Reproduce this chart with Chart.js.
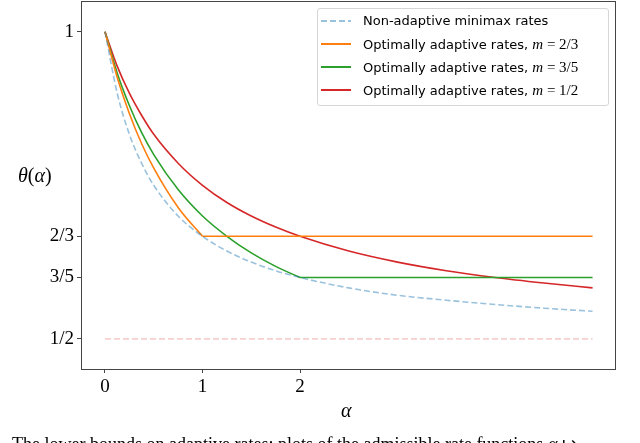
<!DOCTYPE html>
<html>
<head>
<meta charset="utf-8">
<script src="https://cdn.jsdelivr.net/npm/chart.js@4"></script>
<style>
  html, body { margin: 0; padding: 0; background: #fff; }
  body { width: 640px; height: 443px; overflow: hidden; position: relative; }
  #wrap { position: absolute; left: 0; top: 0; width: 640px; height: 443px; }
  .lbl { position: absolute; font-family: "Liberation Serif", serif; color: #000; white-space: nowrap; }
  #ylab { left: 18px; top: 164px; font-size: 20px; }
  #xlab { left: 341px; top: 399px; font-size: 20px; font-style: italic; }
  #caption { left: 12px; top: 435px; font-size: 18px; line-height: 18px; }
  #legend {
    position: absolute; left: 317px; top: 8px; width: 290px; height: 96px;
    border: 1px solid #d6d6d6; border-radius: 3px; background: rgba(255,255,255,0.8);
    font-family: "DejaVu Sans", sans-serif; font-size: 13px; color: #000;
  }
  .row { position: absolute; left: 0; height: 16px; line-height: 16px; }
  .swatch { position: absolute; left: 3px; top: 7px; width: 30px; height: 2px; }
  .txt { position: absolute; left: 45px; top: 0; white-space: nowrap; }
  .m { font-family: "Liberation Serif", serif; font-style: italic; font-size: 15px; }
  .mv { font-family: "Liberation Serif", serif; font-size: 15px; }
</style>
</head>
<body>
<div id="wrap"><canvas id="chart" width="640" height="443"></canvas></div>
<div id="ylab" class="lbl"><i>θ</i>(<i>α</i>)</div>
<div id="xlab" class="lbl">α</div>
<div id="caption" class="lbl">The lower bounds on adaptive rates: plots of the admissible rate functions <i>α</i> ↦</div>
<div id="legend"></div>
<script>
// values
const alphas = [0, 0.125, 0.25, 0.375, 0.5, 0.75, 1, 1.25, 1.5, 1.75, 2, 2.5, 3, 3.5, 4, 4.5, 5];
const nonAdaptive = [1, 0.9, 0.833, 0.786, 0.75, 0.7, 0.667, 0.643, 0.625, 0.611, 0.6, 0.583, 0.571, 0.563, 0.556, 0.55, 0.545];
const rateM23 = [1, 0.926, 0.867, 0.818, 0.778, 0.714, 0.667];
const rateM35 = [1, 0.933, 0.88, 0.836, 0.8, 0.743, 0.7, 0.667, 0.64, 0.618, 0.6];
const rateM12 = [1, 0.944, 0.9, 0.864, 0.833, 0.786, 0.75, 0.722, 0.7, 0.682, 0.667, 0.643, 0.625, 0.611, 0.6, 0.591, 0.583];
const flatM23 = [0.667, 0.667];
const flatM35 = [0.6, 0.6];
const flatX23 = [1, 5];
const flatX35 = [2, 5];
const halfLine = [0.5, 0.5];
const halfX = [0, 5];

const yTickValues = [0.5, 0.6, 0.6667, 1];
const yTickLabels = ["1/2", "3/5", "2/3", "1"];
const xTickValues = [0, 1, 2];
const xTickLabels = ["0", "1", "2"];

const COLORS = {
  blue: "rgba(31,119,180,0.45)",
  orange: "#ff7f0e",
  green: "#2ca02c",
  red: "#d62728",
  pink: "rgba(214,39,40,0.22)"
};

const pts = (xs, ys) => ys.map((y, i) => ({ x: xs[i], y }));

const line = (data, color, extra) => Object.assign({
  data,
  borderColor: color,
  borderWidth: 1.6,
  pointRadius: 0,
  fill: false,
  cubicInterpolationMode: "monotone"
}, extra || {});

const spines = {
  id: "spines",
  afterDraw(chart) {
    const { ctx, chartArea: a } = chart;
    ctx.save();
    ctx.strokeStyle = "#444";
    ctx.lineWidth = 1;
    ctx.strokeRect(a.left + 0.5, a.top + 0.5, a.right - a.left, a.bottom - a.top);
    ctx.restore();
  }
};

const tickFont = { family: "Liberation Serif", size: 19 };

new Chart(document.getElementById("chart"), {
  type: "line",
  data: {
    datasets: [
      line(pts(halfX, halfLine), COLORS.pink, { borderDash: [6, 3] }),
      line(pts(alphas, nonAdaptive), COLORS.blue, { borderDash: [6, 3] }),
      line(pts(alphas, rateM23), COLORS.orange),
      line(pts(flatX23, flatM23), COLORS.orange),
      line(pts(alphas, rateM35), COLORS.green),
      line(pts(flatX35, flatM35), COLORS.green),
      line(pts(alphas, rateM12), COLORS.red)
    ]
  },
  options: {
    responsive: false,
    animation: false,
    layout: { padding: { left: 0, right: 25, top: 1, bottom: 0 } },
    plugins: { legend: { display: false }, tooltip: { enabled: false } },
    scales: {
      x: {
        type: "linear",
        min: -0.246,
        max: 5.23,
        afterFit: (s) => { s.height = 74; s.paddingLeft = 0; s.paddingRight = 0; },
        afterBuildTicks: (s) => { s.ticks = xTickValues.map(v => ({ value: v })); },
        ticks: { callback: (v, i) => xTickLabels[i], font: tickFont, color: "#000", padding: 3, maxRotation: 0 },
        grid: { drawOnChartArea: false, drawTicks: true, tickLength: 4, color: "#444" },
        border: { display: true, color: "#444", width: 1 }
      },
      y: {
        type: "linear",
        min: 0.451,
        max: 1.05,
        afterFit: (s) => { s.width = 81; s.paddingTop = 0; s.paddingBottom = 0; },
        afterBuildTicks: (s) => { s.ticks = yTickValues.map(v => ({ value: v })); },
        ticks: { callback: (v, i) => yTickLabels[i], font: tickFont, color: "#000", padding: 3 },
        grid: { drawOnChartArea: false, drawTicks: true, tickLength: 4, color: "#444" },
        border: { display: true, color: "#444", width: 1 }
      }
    }
  },
  plugins: [spines]
});

// legend
const legendRows = [
  { color: COLORS.blue, dash: true, text: "Non-adaptive minimax rates" },
  { color: COLORS.orange, text: "Optimally adaptive rates, ", m: "2/3" },
  { color: COLORS.green, text: "Optimally adaptive rates, ", m: "3/5" },
  { color: COLORS.red, text: "Optimally adaptive rates, ", m: "1/2" }
];
document.getElementById("legend").innerHTML = legendRows.map((r, i) => {
  const bg = r.dash
    ? `repeating-linear-gradient(90deg, ${r.color} 0 6px, transparent 6px 9px)`
    : r.color;
  const sw = `<div class="swatch" style="background:${bg}"></div>`;
  const m = r.m ? `<span class="m">m</span><span class="mv"> = ${r.m}</span>` : "";
  return `<div class="row" style="top:${4 + i * 23}px;width:100%">${sw}<div class="txt">${r.text}${m}</div></div>`;
}).join("");
</script>
</body>
</html>
